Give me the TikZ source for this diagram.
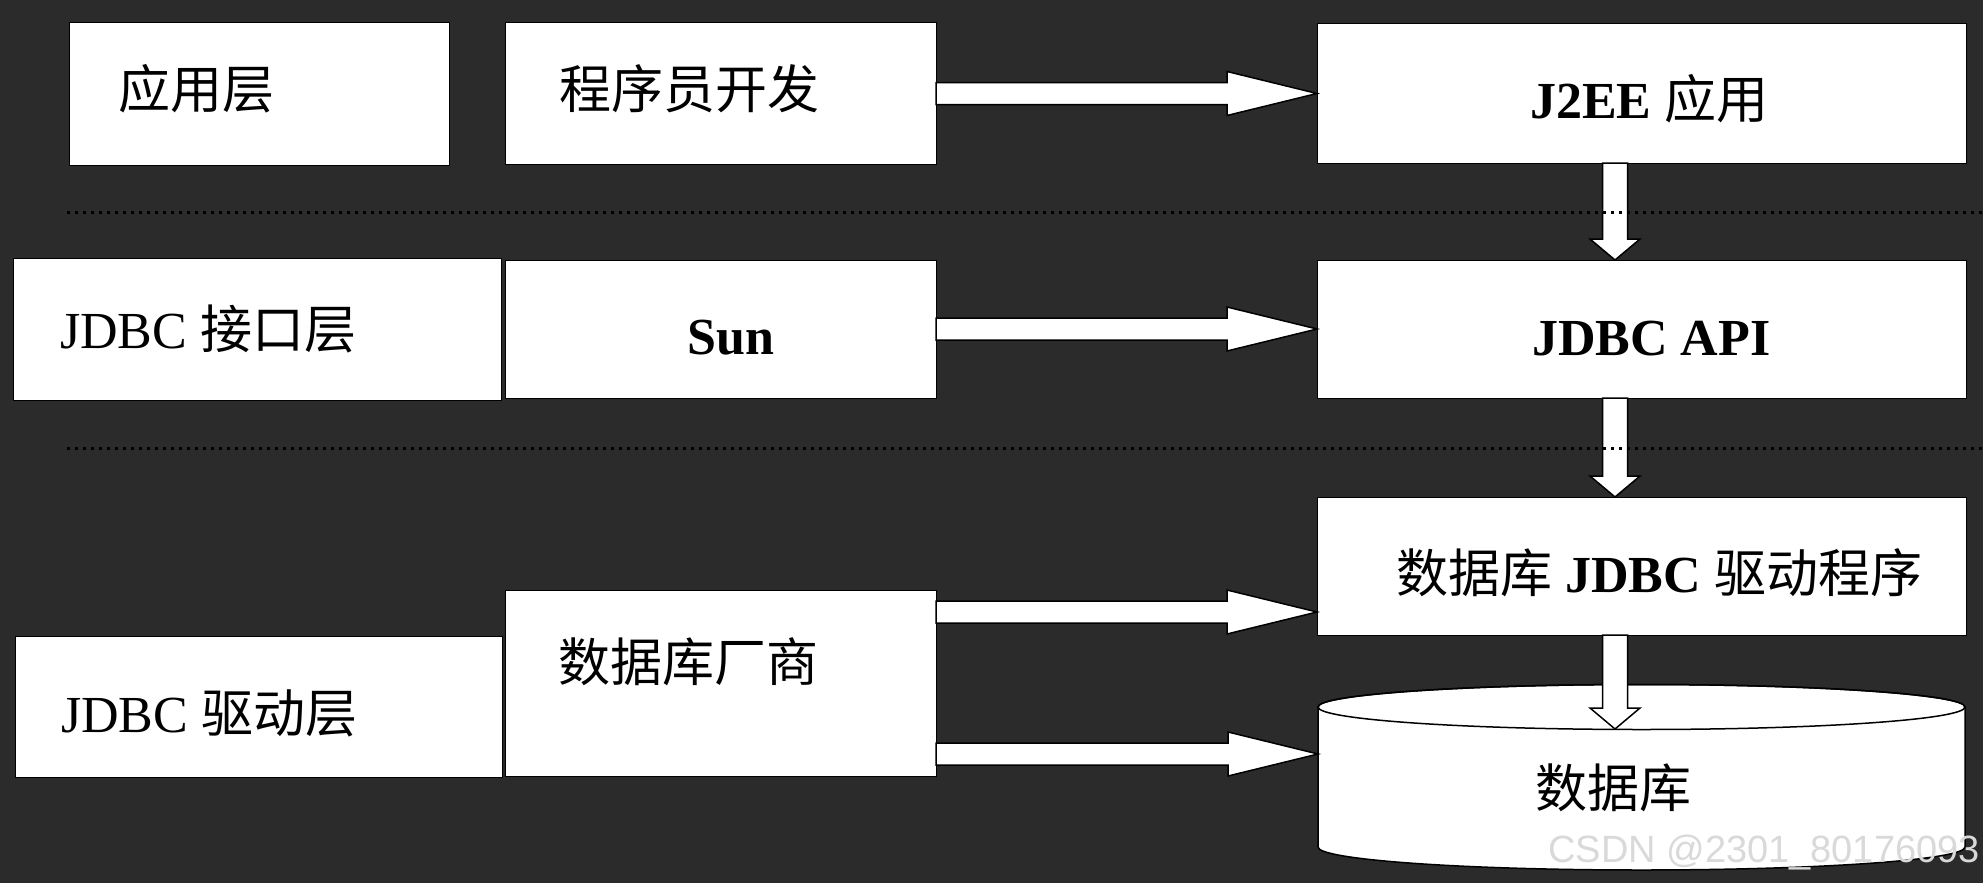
\documentclass[tikz,border=0pt]{standalone}
\usepackage{fontspec}
\setmainfont{Liberation Serif}
\newfontfamily\cjk{Noto Sans CJK SC}
\newfontfamily\wmfont{Liberation Sans}
\usetikzlibrary{calc}
\definecolor{bg}{HTML}{2B2B2B}
\newcommand\zh[1]{{\cjk #1}}
\newcommand\harrow[3]{%
  \filldraw[blk] let \p1=(#1.east), \p2=(#2.west), \p3=(#3) in
    (\x1,\y3+11pt) -- (\x2-90pt,\y3+11pt) -- (\x2-90pt,\y3+22pt) -- (\x2,\y3)
    -- (\x2-90pt,\y3-22pt) -- (\x2-90pt,\y3-11pt) -- (\x1,\y3-11pt) -- cycle;}
\newcommand\varrow[2]{%
  \filldraw[blk] let \p1=(#1), \p2=(#2) in
    (\x1-12.5pt,\y1) -- (\x1-12.5pt,\y2+21pt) -- (\x1-25pt,\y2+21pt) -- (\x1,\y2)
    -- (\x1+25pt,\y2+21pt) -- (\x1+12.5pt,\y2+21pt) -- (\x1+12.5pt,\y1) -- cycle;}
\begin{document}
\begin{tikzpicture}[x=1pt,y=-1pt,
  box/.style={draw=black,line width=1pt,fill=white,inner sep=0pt,outer sep=0pt},
  blk/.style={fill=white,draw=black,line width=1.5pt,line join=miter},
  txt/.style={anchor=base west,inner sep=0pt,font=\fontsize{52}{60}\selectfont,text=black},
  sep/.style={draw=black,line width=3pt,dash pattern=on 3pt off 5pt}]
\useasboundingbox (0,0) rectangle (1983,883);
\fill[bg] (0,0) rectangle (1983,883);

% boxes
\node[box,minimum width=380pt,minimum height=142pt] (l1) at (259,94) {};
\node[box,minimum width=431pt,minimum height=141pt] (prog) at (720.5,93.5) {};
\node[box,minimum width=649pt,minimum height=139pt] (j2ee) at (1641.5,93.5) {};
\node[box,minimum width=488pt,minimum height=142pt] (l2) at (257,329) {};
\node[box,minimum width=431pt,minimum height=138pt] (sun) at (720.5,329) {};
\node[box,minimum width=649pt,minimum height=138pt] (api) at (1641.5,329) {};
\node[box,minimum width=649pt,minimum height=138pt] (drv) at (1641.5,566) {};
\node[box,minimum width=431pt,minimum height=186pt] (vendor) at (720.5,683) {};
\node[box,minimum width=487pt,minimum height=141pt] (l3) at (258.5,706.5) {};

% database cylinder
\node[inner sep=0pt,outer sep=0pt,minimum width=647pt,minimum height=185pt] (db) at (1641.5,777) {};
\filldraw[fill=white,draw=black,line width=1.5pt]
  (db.west |- 0,707) -- (db.west |- 0,847)
  arc[start angle=180,end angle=0,x radius=323.5,y radius=23]
  -- (db.east |- 0,707)
  arc[start angle=0,end angle=-180,x radius=323.5,y radius=22.5] -- cycle;
\draw[black,line width=1.5pt] (db.north |- 0,707) ellipse[x radius=323.5,y radius=22.5];

% connector coordinates
\coordinate (xa) at (1615,0);
\coordinate (y1) at (0,93.5);
\coordinate (y2) at (0,329);
\coordinate (y3) at (0,612);
\coordinate (y4) at (0,754);
\coordinate (dbtop) at (1615,729);

% horizontal block arrows
\harrow{prog}{j2ee}{y1}
\harrow{sun}{api}{y2}
\harrow{vendor}{drv}{y3}
\harrow{vendor}{db}{y4}

% vertical block arrows
\varrow{j2ee.south -| xa}{api.north -| xa}
\varrow{api.south -| xa}{drv.north -| xa}
\varrow{drv.south -| xa}{dbtop}

% dotted separators
\coordinate (s1a) at (67,212);
\coordinate (s1b) at (1983,212);
\coordinate (s2a) at (67,448);
\coordinate (s2b) at (1983,448);
\draw[sep] (s1a) -- (s1b);
\draw[sep] (s2a) -- (s2b);

% texts
\node[txt] (t1) at (118,108) {\zh{应用层}};
\node[txt] (t2) at (559,108) {\zh{程序员开发}};
\node[txt] (t3) at (1530,118) {\textbf{J2EE} \zh{应用}};
\node[txt] (t4) at (60,348) {JDBC \zh{接口层}};
\node[txt] (t5) at (687,354) {\textbf{Sun}};
\node[txt] (t6) at (1532,355) {\textbf{JDBC API}};
\node[txt] (t7) at (1396,592) {\zh{数据库} \textbf{JDBC} \zh{驱动程序}};
\node[txt] (t8) at (558,681) {\zh{数据库厂商}};
\node[txt] (t9) at (61,732) {JDBC \zh{驱动层}};
\node[txt] (t10) at (1535,807) {\zh{数据库}};
\node[anchor=base east,inner sep=0pt,text=black!15,font=\wmfont\fontsize{38}{44}\selectfont] (wm) at (1980,862) {CSDN @2301\_80176093};
\end{tikzpicture}
\end{document}
